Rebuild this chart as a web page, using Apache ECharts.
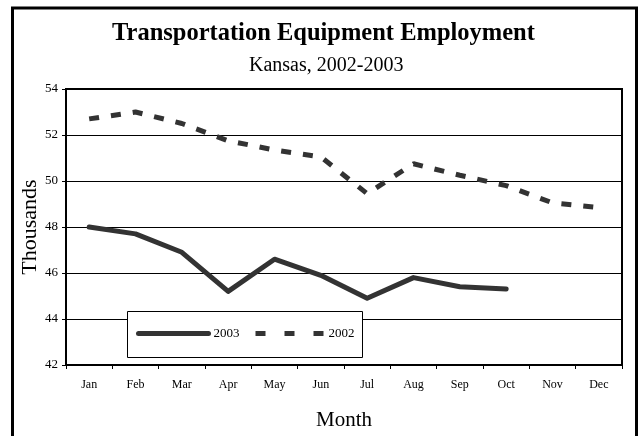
<!DOCTYPE html>
<html>
<head>
<meta charset="utf-8">
<script src="https://cdn.jsdelivr.net/npm/echarts@6/dist/echarts.min.js"></script>
<style>
  html, body { margin: 0; padding: 0; background: #fff; }
  #main { width: 638px; height: 436px; }
</style>
</head>
<body>
<div id="main"></div>
<script>
'use strict';

var months = ['Jan', 'Feb', 'Mar', 'Apr', 'May', 'Jun', 'Jul', 'Aug', 'Sep', 'Oct', 'Nov', 'Dec'];
var emp2003 = [48.0, 47.7, 46.9, 45.2, 46.6, 45.9, 44.9, 45.8, 45.4, 45.3, null, null];
var emp2002 = [52.7, 53.0, 52.5, 51.75, 51.35, 51.05, 49.45, 50.75, 50.25, 49.8, 49.05, 48.85];

var serif = '"Liberation Serif", "Times New Roman", serif';
var ink = '#333';

var myChart = echarts.init(document.getElementById('main'));

var option = {
    backgroundColor: '#fff',
    animation: false,
    textStyle: {
        fontFamily: serif,
        color: '#000'
    },
    title: [
        {
            text: 'Transportation Equipment Employment',
            left: 107,
            top: 16,
            textStyle: { fontFamily: serif, fontSize: 24.5, fontWeight: 'bold', color: '#000' }
        },
        {
            text: 'Kansas, 2002-2003',
            left: 244,
            top: 51,
            textStyle: { fontFamily: serif, fontSize: 20, fontWeight: 'normal', color: '#000' }
        }
    ],
    grid: {
        left: 66,
        right: 16,
        top: 89,
        bottom: 65,
        show: true,
        borderColor: '#000',
        borderWidth: 2
    },
    legend: [
        {
            left: 136,
            top: 327,
            padding: 0,
            itemWidth: 70,
            itemHeight: 10,
            data: ['2003'],
            textStyle: { fontFamily: serif, fontSize: 13, color: '#000' },
            itemStyle: { opacity: 0 },
            lineStyle: { width: 5, cap: 'round' }
        },
        {
            left: 253,
            top: 327,
            padding: 0,
            itemWidth: 68,
            itemHeight: 10,
            data: ['2002'],
            textStyle: { fontFamily: serif, fontSize: 13, color: '#000' },
            itemStyle: { opacity: 0 },
            lineStyle: { width: 5, type: [10, 19] }
        }
    ],
    xAxis: {
        type: 'category',
        data: months,
        boundaryGap: true,
        name: 'Month',
        nameLocation: 'middle',
        nameGap: 45,
        nameMoveOverlap: false,
        nameTextStyle: { fontFamily: serif, fontSize: 21, color: '#000' },
        axisLine: { lineStyle: { color: '#000', width: 2 } },
        axisTick: { show: true, inside: false, length: 4, lineStyle: { color: '#000', width: 1 } },
        axisLabel: { fontFamily: serif, fontSize: 12, color: '#000', margin: 14 },
        splitLine: { show: false }
    },
    yAxis: {
        type: 'value',
        min: 42,
        max: 54,
        interval: 2,
        name: 'Thousands',
        nameLocation: 'middle',
        nameGap: 25,
        nameRotate: 90,
        nameMoveOverlap: false,
        nameTextStyle: { fontFamily: serif, fontSize: 22, color: '#000' },
        axisLine: { show: true, lineStyle: { color: '#000', width: 2 } },
        axisTick: { show: true, inside: false, length: 4, lineStyle: { color: '#000', width: 1 } },
        axisLabel: { fontFamily: serif, fontSize: 13, color: '#000', margin: 8 },
        splitLine: { show: true, lineStyle: { color: '#000', width: 1 } }
    },
    series: [
        {
            name: '2003',
            type: 'line',
            data: emp2003,
            symbol: 'none',
            connectNulls: false,
            lineStyle: { color: ink, width: 5, cap: 'round', join: 'round' },
            itemStyle: { color: ink },
            z: 3
        },
        {
            name: '2002',
            type: 'line',
            data: emp2002,
            symbol: 'none',
            lineStyle: { color: ink, width: 5, type: [10, 12] },
            itemStyle: { color: ink },
            z: 3
        }
    ],
    graphic: [
        {
            type: 'rect',
            shape: { x: 127.5, y: 311.5, width: 235, height: 46 },
            style: { fill: '#fff', stroke: '#000', lineWidth: 1 },
            z: 4
        },
        {
            type: 'rect',
            shape: { x: 12.5, y: 8, width: 624, height: 440 },
            style: { fill: 'none', stroke: '#000', lineWidth: 3 },
            z: 10
        }
    ]
};

myChart.setOption(option);
</script>
</body>
</html>
